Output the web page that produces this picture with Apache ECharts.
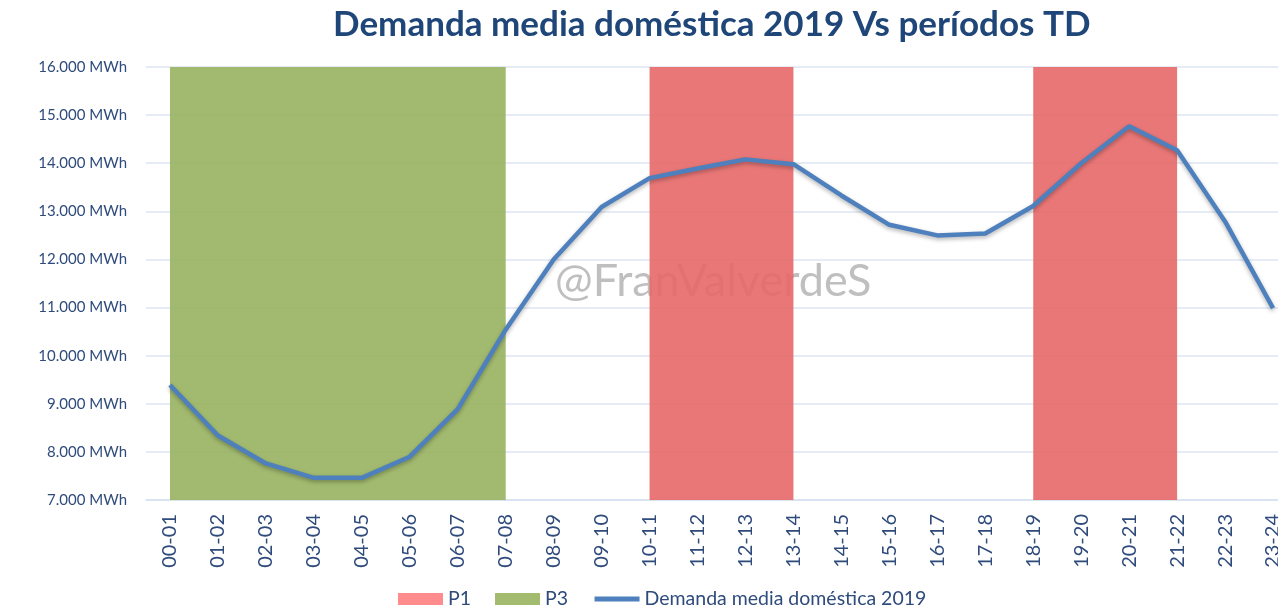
<!DOCTYPE html>
<html>
<head>
<meta charset="utf-8">
<script src="https://cdn.jsdelivr.net/npm/echarts@6/dist/echarts.min.js"></script>
<style>
  html, body { margin: 0; padding: 0; background: #fff; }
  #chart { width: 1278px; height: 607px; }
</style>
</head>
<body>
<div id="chart"></div>
<script>
const categories = ['00-01', '01-02', '02-03', '03-04', '04-05', '05-06', '06-07', '07-08',
  '08-09', '09-10', '10-11', '11-12', '12-13', '13-14', '14-15', '15-16',
  '16-17', '17-18', '18-19', '19-20', '20-21', '21-22', '22-23', '23-24']
const demand = [9390, 8340, 7760, 7460, 7460, 7900, 8890, 10540,
  12000, 13090, 13690, 13890, 14080, 13980, 13330, 12720,
  12500, 12540, 13110, 14000, 14770, 14270, 12790, 10990]
// periodos tarifarios (desde, hasta)
const p1Periods = [['10-11', '13-14'], ['18-19', '21-22']]
const p3Periods = [['00-01', '07-08']]
const yMin = 7000
const yMax = 16000
const yStep = 1000

const labelColor = '#2F4B7C'
const font = 'Lato'

function fmt (v) {
  return String(v).replace(/\B(?=(\d{3})+(?!\d))/g, '.') + ' MWh'
}

function periodData (periods) {
  return periods.map(p => [categories.indexOf(p[0]), categories.indexOf(p[1]), yMin, yMax])
}

function periodSeries (name, legendColor, fill, periods) {
  return {
    name: name,
    type: 'custom',
    silent: true,
    itemStyle: { color: legendColor },
    encode: { x: [0, 1], y: [2, 3] },
    data: periodData(periods),
    renderItem: function (params, api) {
      const a = api.coord([api.value(0), api.value(3)])
      const b = api.coord([api.value(1), api.value(2)])
      return {
        type: 'rect',
        shape: { x: a[0], y: a[1], width: b[0] - a[0], height: b[1] - a[1] },
        style: { fill: fill }
      }
    }
  }
}

const chart = echarts.init(document.getElementById('chart'))

chart.setOption({
  animation: false,
  title: {
    text: 'Demanda media doméstica 2019 Vs períodos TD',
    left: 328,
    top: 2,
    textStyle: { fontFamily: font, fontWeight: 'bold', fontSize: 35, color: '#1F4678' }
  },
  legend: {
    left: 393,
    top: 584,
    itemWidth: 45,
    itemHeight: 12,
    itemGap: 24,
    textStyle: { fontFamily: font, fontSize: 19.5, color: labelColor },
    data: [
      { name: 'P1', icon: 'rect' },
      { name: 'P3', icon: 'rect' },
      { name: 'Demanda media doméstica 2019', itemStyle: { opacity: 0 }, lineStyle: { width: 5 } }
    ]
  },
  // the original picture is cut on the right: the grid runs past the canvas
  grid: { left: 146, width: 1151, top: 67, bottom: 107, outerBoundsMode: 'none' },
  graphic: [{
    type: 'text',
    left: 555,
    top: 259,
    z: 1,
    style: { text: '@FranValverdeS', fontFamily: font, fontSize: 45, fill: '#BFBFBF' }
  }],
  xAxis: {
    type: 'category',
    data: categories,
    boundaryGap: true,
    axisLine: { lineStyle: { color: '#D5E0EF', width: 1.5 } },
    axisTick: { show: false },
    axisLabel: { rotate: 90, interval: 0, margin: 14, fontFamily: font, fontSize: 20, color: labelColor }
  },
  yAxis: {
    type: 'value',
    min: yMin,
    max: yMax,
    interval: yStep,
    axisLine: { show: false },
    axisTick: { show: false },
    axisLabel: { formatter: fmt, margin: 19, fontFamily: font, fontSize: 15, color: labelColor },
    splitLine: { lineStyle: { color: '#DCE6F3', width: 1.5 } }
  },
  series: [
    periodSeries('P1', '#FF8C8C', 'rgba(231,104,104,0.9)', p1Periods),
    periodSeries('P3', '#A2BB6F', 'rgba(152,179,95,0.9)', p3Periods),
    {
      name: 'Demanda media doméstica 2019',
      type: 'line',
      data: demand,
      symbol: 'none',
      z: 5,
      itemStyle: { color: '#4E80BE' },
      lineStyle: {
        color: '#4E80BE',
        width: 4.5,
        shadowColor: 'rgba(0,0,0,0.3)',
        shadowBlur: 4,
        shadowOffsetY: 2
      }
    }
  ]
})
</script>
</body>
</html>
